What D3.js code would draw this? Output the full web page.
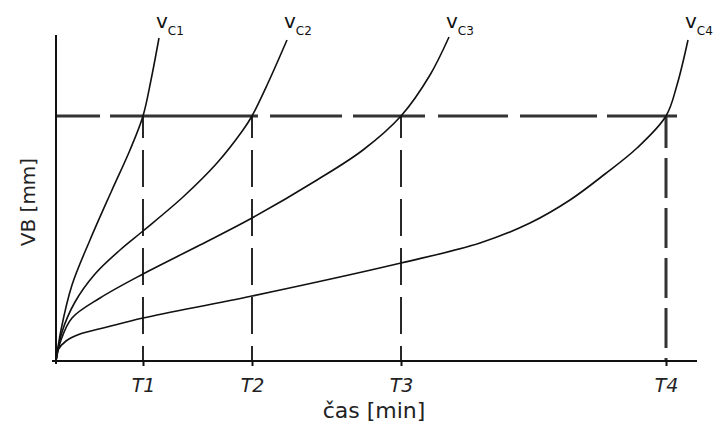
<!DOCTYPE html>
<html>
<head>
<meta charset="utf-8">
<script src="https://cdn.jsdelivr.net/npm/d3@7"></script>
<style>
  body { margin: 0; background: #fff; }
  svg { display: block; font-family: "DejaVu Sans", sans-serif; }
</style>
</head>
<body>
<svg id="chart" width="715" height="431"></svg>
<script>
// time values (min) at which each curve reaches the wear limit
const toolLifeTimes = [8.7, 19.6, 34.5, 61.0];
const tickLabels = ["T1", "T2", "T3", "T4"];
const wearLimit = 24.5;   // VB limit
const curveNames = ["C1", "C2", "C3", "C4"];

// wear curves VB(t)
const vc1Time = [0, 0.5, 1.6, 3.4, 5.6, 7.4, 8.7, 9.5, 10.3];
const vc1Wear = [0, 3.1, 7.6, 12.1, 17.1, 21.1, 24.5, 28.1, 32.3];

const vc2Time = [0, 0.6, 1.9, 3.9, 6.4, 8.7, 12.7, 16.1, 18.7, 19.6, 21.2, 23.1];
const vc2Wear = [0, 2.9, 5.9, 8.7, 11.1, 13.0, 16.4, 19.8, 23.1, 24.5, 27.8, 32.1];

const vc3Time = [0, 0.5, 1.6, 4.4, 8.7, 14.4, 19.6, 26.1, 30.7, 34.5, 37.4, 39.3];
const vc3Wear = [0, 2.1, 4.3, 6.3, 8.7, 11.6, 14.3, 18.1, 21.1, 24.5, 28.6, 32.4];

const vc4Time = [0, 0.2, 1.0, 2.4, 5.1, 8.7, 19.6, 34.5, 42.4, 47.4, 51.4, 54.9, 58.1, 61.0, 62.1, 63.2];
const vc4Wear = [0, 1.1, 2.0, 2.7, 3.4, 4.3, 6.5, 9.8, 11.8, 13.8, 16.1, 18.7, 21.3, 24.5, 27.6, 32.1];

const wearSeries = [
  { name: curveNames[0], t: vc1Time, vb: vc1Wear },
  { name: curveNames[1], t: vc2Time, vb: vc2Wear },
  { name: curveNames[2], t: vc3Time, vb: vc3Wear },
  { name: curveNames[3], t: vc4Time, vb: vc4Wear }
];

const svg = d3.select("#chart");
const x0 = 56, x1 = 697, y0 = 361, y1 = 35;

const x = d3.scaleLinear().domain([0, 64.1]).range([x0, x1]);
const y = d3.scaleLinear().domain([0, 32.6]).range([y0, y1]);

const line = d3.line()
  .x(d => x(d[0]))
  .y(d => y(d[1]))
  .curve(d3.curveCatmullRom.alpha(0.5));

// dashed wear limit
svg.append("line")
  .attr("x1", x(0)).attr("x2", x(toolLifeTimes[3]) + 11)
  .attr("y1", y(wearLimit)).attr("y2", y(wearLimit))
  .attr("stroke", "#333").attr("stroke-width", 3)
  .attr("stroke-dasharray", "44 10 148 12 72 11 72 13 70 12 77 10 70");

// dashed verticals down from the limit line
svg.selectAll(".tline")
  .data(toolLifeTimes)
  .enter().append("line")
  .attr("class", "tline")
  .attr("x1", d => x(d)).attr("x2", d => x(d))
  .attr("y1", y(wearLimit)).attr("y2", y(0))
  .attr("stroke", (d, i) => i == 3 ? "#333" : "#111")
  .attr("stroke-width", (d, i) => i == 3 ? 3 : 1.8)
  .attr("stroke-dasharray", (d, i) => i == 3 ? "40 10" : "37 12")
  .attr("stroke-dashoffset", (d, i) => i == 3 ? 8 : 15);

// axes
svg.append("line")
  .attr("x1", x0 - 4).attr("x2", x1)
  .attr("y1", y0).attr("y2", y0)
  .attr("stroke", "#111").attr("stroke-width", 2);
svg.append("line")
  .attr("x1", x0).attr("x2", x0)
  .attr("y1", y1).attr("y2", y0 + 3)
  .attr("stroke", "#111").attr("stroke-width", 2);

const xAxis = svg.append("g")
  .attr("transform", "translate(0," + y0 + ")")
  .call(d3.axisBottom(x)
    .tickValues(toolLifeTimes)
    .tickFormat((d, i) => tickLabels[i])
    .tickSize(5)
    .tickSizeOuter(0));
xAxis.select(".domain").remove();
xAxis.selectAll(".tick line").attr("stroke", "#111").attr("stroke-width", 2);
xAxis.selectAll(".tick text")
  .attr("y", 31).attr("dy", 0)
  .attr("fill", "#222")
  .style("font-size", "19px")
  .style("font-style", "italic")
  .style("font-family", "DejaVu Sans");

// wear curves
svg.selectAll(".wear")
  .data(wearSeries)
  .enter().append("path")
  .attr("class", "wear")
  .attr("d", s => line(s.t.map((t, i) => [t, s.vb[i]])))
  .attr("fill", "none")
  .attr("stroke", "#111")
  .attr("stroke-width", 1.6);

// curve labels  v_C1 ... v_C4
const labels = svg.selectAll(".clabel")
  .data(wearSeries)
  .enter().append("text")
  .attr("class", "clabel")
  .attr("x", s => x(s.t[s.t.length - 1]) - 3)
  .attr("y", 28)
  .attr("fill", "#111")
  .style("font-size", "20px");
labels.append("tspan").text("v");
labels.append("tspan")
  .attr("dy", 7)
  .style("font-size", "12px")
  .text(s => s.name);

// axis titles
svg.append("text")
  .attr("x", 374).attr("y", 418)
  .attr("text-anchor", "middle")
  .attr("fill", "#222")
  .style("font-size", "22px")
  .text("čas [min]");

svg.append("text")
  .attr("transform", "translate(35,202) rotate(-90)")
  .attr("text-anchor", "middle")
  .attr("fill", "#222")
  .style("font-size", "20px")
  .text("VB [mm]");
</script>
</body>
</html>
